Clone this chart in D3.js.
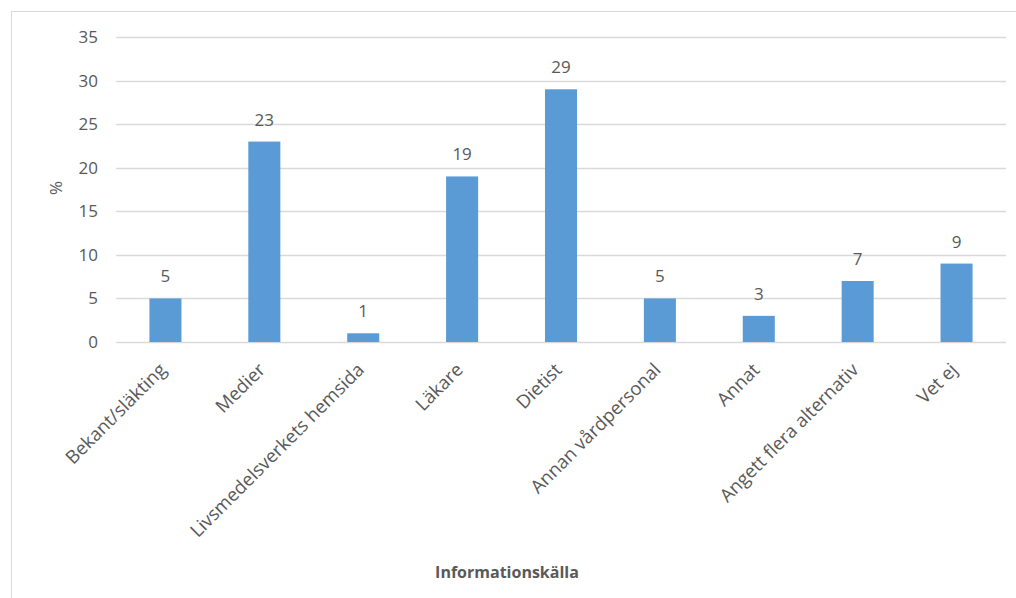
<!DOCTYPE html>
<html>
<head>
<meta charset="utf-8">
<script src="https://cdn.jsdelivr.net/npm/d3@7"></script>
<style>
  body { margin: 0; background: #fff; }
  text { font-family: "Open Sans", sans-serif; fill: #595959; }
</style>
</head>
<body>
<div id="chart"></div>
<script>
// data
var categories = ["Bekant/släkting", "Medier", "Livsmedelsverkets hemsida", "Läkare",
  "Dietist", "Annan vårdpersonal", "Annat", "Angett flera alternativ", "Vet ej"];
var values = [5, 23, 1, 19, 29, 5, 3, 7, 9];
var yTicks = [0, 5, 10, 15, 20, 25, 30, 35];
var yTitle = "%";
var xTitle = "Informationskälla";

var W = 1016, H = 598;
var margin = {top: 37, right: 10, bottom: 256, left: 116};

var svg = d3.select("#chart").append("svg")
  .attr("width", W)
  .attr("height", H);

// chart area border (top + left visible in the crop)
svg.append("rect")
  .attr("x", 11.5).attr("y", 11.5)
  .attr("width", W + 20).attr("height", H + 20)
  .attr("fill", "none")
  .attr("stroke", "#d9d9d9");

var x = d3.scaleBand()
  .domain(categories)
  .range([margin.left, W - margin.right])
  .paddingInner(0.676)
  .paddingOuter(0.338);

var y = d3.scaleLinear()
  .domain([0, 35])
  .range([H - margin.bottom, margin.top]);

// gridlines
svg.append("g")
  .selectAll("line")
  .data(yTicks)
  .enter().append("line")
  .attr("x1", margin.left)
  .attr("x2", W - margin.right)
  .attr("y1", function (d) { return Math.round(y(d)) + 0.5; })
  .attr("y2", function (d) { return Math.round(y(d)) + 0.5; })
  .attr("stroke", "#d9d9d9")
  .attr("stroke-width", 1.3);

// y tick labels
svg.append("g")
  .selectAll("text")
  .data(yTicks)
  .enter().append("text")
  .attr("x", 98)
  .attr("y", function (d) { return y(d); })
  .attr("dy", "0.35em")
  .attr("text-anchor", "end")
  .attr("font-size", 17)
  .text(function (d) { return d; });

// bars
svg.append("g")
  .selectAll("rect")
  .data(values)
  .enter().append("rect")
  .attr("x", function (d, i) { return x(categories[i]); })
  .attr("y", function (d) { return y(d); })
  .attr("width", x.bandwidth())
  .attr("height", function (d) { return y(0) - y(d); })
  .attr("fill", "#5b9bd5");

// value labels
svg.append("g")
  .selectAll("text")
  .data(values)
  .enter().append("text")
  .attr("x", function (d, i) { return x(categories[i]) + x.bandwidth() / 2; })
  .attr("y", function (d) { return y(d) - 16; })
  .attr("text-anchor", "middle")
  .attr("font-size", 17)
  .text(function (d) { return d; });

// category labels, rotated
svg.append("g")
  .selectAll("text")
  .data(categories)
  .enter().append("text")
  .attr("transform", function (d) {
    var cx = x(d) + x.bandwidth() / 2 + 2;
    return "translate(" + cx + "," + (y(0) + 29) + ") rotate(-45)";
  })
  .attr("text-anchor", "end")
  .attr("font-size", 18.5)
  .text(function (d) { return d; });

// axis titles
svg.append("text")
  .attr("transform", "translate(62,188) rotate(-90)")
  .attr("text-anchor", "middle")
  .attr("font-size", 17)
  .text(yTitle);

svg.append("text")
  .attr("x", 507)
  .attr("y", 578)
  .attr("text-anchor", "middle")
  .attr("font-size", 16)
  .attr("font-weight", "bold")
  .text(xTitle);
</script>
</body>
</html>
